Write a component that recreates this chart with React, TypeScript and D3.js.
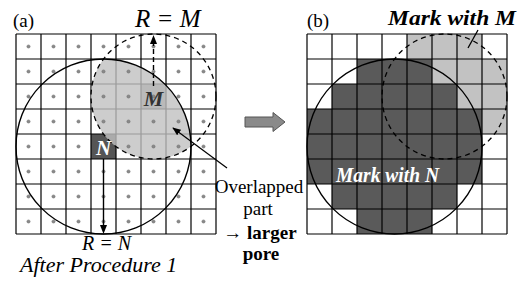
import { range, scaleLinear } from 'd3'

// grid cells per side
const gridN = 8
// pore centres in cell units (column, row) and radii in cells
const poreN = { col: 3, row: 4, r: 3.5 }
const poreM = { col: 5, row: 2, r: 2.5 }
// panel (b) marks, one string per row: N = mark with N, M = mark with M
const markRows = [
  '....MMM.',
  '..NNNMMM',
  '.NNNNNMM',
  'NNNNNNNM',
  'NNNNNNN.',
  'NNNNNNN.',
  '.NNNNN..',
  '..NNN...',
]
const fillOf: Record<string, string> = { N: '#5a5a5a', M: '#c2c2c2', '.': '#ffffff' }

const serif = "'Liberation Serif', 'Times New Roman', serif"
const txt = (size: number, extra: Record<string, string | number> = {}) => ({
  fontFamily: serif, fontSize: size, ...extra,
})

export default function App() {
  const ya = scaleLinear().domain([0, gridN]).range([34, 234])
  const xa = scaleLinear().domain([0, gridN]).range([16, 216])
  const xb = scaleLinear().domain([0, gridN]).range([307, 507])
  const cell = xa(1) - xa(0)
  const idx = range(gridN)

  const gridLines = (x: (v: number) => number) => (
    <g stroke='#000' strokeWidth={1.2}>
      {range(gridN + 1).map(i => (
        <line key={'v' + i} x1={x(i)} x2={x(i)} y1={ya(0)} y2={ya(gridN)} />
      ))}
      {range(gridN + 1).map(i => (
        <line key={'h' + i} x1={x(0)} x2={x(gridN)} y1={ya(i)} y2={ya(i)} />
      ))}
    </g>
  )

  const cx = (x: (v: number) => number, p: { col: number }) => x(p.col + 0.5)
  const cy = (p: { row: number }) => ya(p.row + 0.5)

  const headUp = (x: number, y: number) => `M${x},${y} L${x - 3.5},${y + 9} L${x + 3.5},${y + 9} Z`
  const headDown = (x: number, y: number) => `M${x},${y} L${x - 3.5},${y - 9} L${x + 3.5},${y - 9} Z`

  return (
    <svg width={520} height={281} style={{ position: 'absolute', left: 0, top: 0, background: '#fff' }}>
      <defs>
        <clipPath id='clipN-a'>
          <circle cx={cx(xa, poreN)} cy={cy(poreN)} r={poreN.r * cell} />
        </clipPath>
        <marker id='ah' viewBox='0 0 10 10' refX={9} refY={5} markerWidth={7} markerHeight={7} orient='auto'>
          <path d='M0,1 L10,5 L0,9 Z' fill='#000' />
        </marker>
      </defs>

      {/* panel (a) */}
      <rect x={xa(0)} y={ya(0)} width={cell * gridN} height={cell * gridN} fill='#fff' />
      <rect x={xa(poreM.col)} y={ya(poreM.row)} width={cell} height={cell} fill='#a0a0a0' />
      <rect x={xa(poreN.col)} y={ya(poreN.row)} width={cell} height={cell} fill='#555' />
      {gridLines(xa)}
      <circle
        cx={cx(xa, poreM)} cy={cy(poreM)} r={poreM.r * cell}
        fill='#c0c0c0' fillOpacity={0.8} clipPath='url(#clipN-a)'
      />
      <g fill='#8a8a8a' stroke='#666' strokeWidth={0.5}>
        {idx.flatMap(r =>
          idx
            .filter(c => !(c === poreN.col && r === poreN.row))
            .map(c => <circle key={r + '-' + c} cx={xa(c + 0.5)} cy={ya(r + 0.5)} r={1.6} />)
        )}
      </g>
      <circle cx={cx(xa, poreN)} cy={cy(poreN)} r={poreN.r * cell} fill='none' stroke='#000' strokeWidth={1.4} />
      <circle
        cx={cx(xa, poreM)} cy={cy(poreM)} r={poreM.r * cell}
        fill='none' stroke='#000' strokeWidth={1.3} strokeDasharray='5 4'
      />
      {/* R = M arrow */}
      <line x1={cx(xa, poreM)} x2={cx(xa, poreM)} y1={ya(poreM.row) + 2} y2={ya(0) + 8} stroke='#000' strokeWidth={1.4} strokeDasharray='5 3' />
      <path d={headUp(cx(xa, poreM), ya(0) + 1)} fill='#000' />
      {/* R = N arrow */}
      <line x1={cx(xa, poreN)} x2={cx(xa, poreN)} y1={ya(poreN.row + 1)} y2={ya(gridN) - 8} stroke='#000' strokeWidth={1.4} />
      <path d={headDown(cx(xa, poreN), ya(gridN))} fill='#000' />
      <text x={cx(xa, poreN)} y={ya(poreN.row) + 21} textAnchor='middle' fill='#fff' style={txt(21, { fontStyle: 'italic', fontWeight: 'bold' })}>N</text>
      <text x={cx(xa, poreM)} y={ya(poreM.row) + 22} textAnchor='middle' fill='#333' style={txt(22, { fontStyle: 'italic', fontWeight: 'bold' })}>M</text>
      {/* overlapped pointer */}
      <line x1={227} y1={168} x2={173} y2={128} stroke='#000' strokeWidth={1.2} markerEnd='url(#ah)' />

      <text x={13} y={27} style={txt(19)}>(a)</text>
      <text x={135} y={27} style={txt(25, { fontStyle: 'italic' })}>R = M</text>
      <text x={82} y={250} style={txt(20, { fontStyle: 'italic' })}>R = N</text>
      <text x={20} y={272} style={txt(22, { fontStyle: 'italic' })}>After Procedure 1</text>
      <g textAnchor='middle' style={txt(19)}>
        <text x={259} y={193}>Overlapped</text>
        <text x={258} y={215}>part</text>
        <text x={260} y={239}>
          <tspan>→ </tspan>
          <tspan fontWeight='bold'>larger</tspan>
        </text>
        <text x={261} y={260} fontWeight='bold'>pore</text>
      </g>

      {/* block arrow */}
      <path d='M245,117 L273,117 L273,112.5 L285,122 L273,131.5 L273,127 L245,127 Z' fill='#8a8a8a' stroke='#555' strokeWidth={1} />

      {/* panel (b) */}
      {markRows.flatMap((row, r) =>
        row.split('').map((m, c) => (
          <rect key={'b' + r + '-' + c} x={xb(c)} y={ya(r)} width={cell} height={cell} fill={fillOf[m]} />
        ))
      )}
      {gridLines(xb)}
      <circle cx={cx(xb, poreN)} cy={cy(poreN)} r={poreN.r * cell} fill='none' stroke='#000' strokeWidth={1.4} />
      <circle
        cx={cx(xb, poreM)} cy={cy(poreM)} r={poreM.r * cell}
        fill='none' stroke='#000' strokeWidth={1.3} strokeDasharray='5 4'
      />
      <line x1={478} y1={30} x2={468} y2={48} stroke='#000' strokeWidth={1.3} />
      <text x={307} y={27} style={txt(19)}>(b)</text>
      <text x={388} y={25} textLength={128} lengthAdjust='spacingAndGlyphs' style={txt(22, { fontStyle: 'italic', fontWeight: 'bold' })}>Mark with M</text>
      <text x={336} y={182} textLength={103} lengthAdjust='spacingAndGlyphs' fill='#fff' style={txt(20, { fontStyle: 'italic', fontWeight: 'bold' })}>Mark with N</text>
    </svg>
  )
}
